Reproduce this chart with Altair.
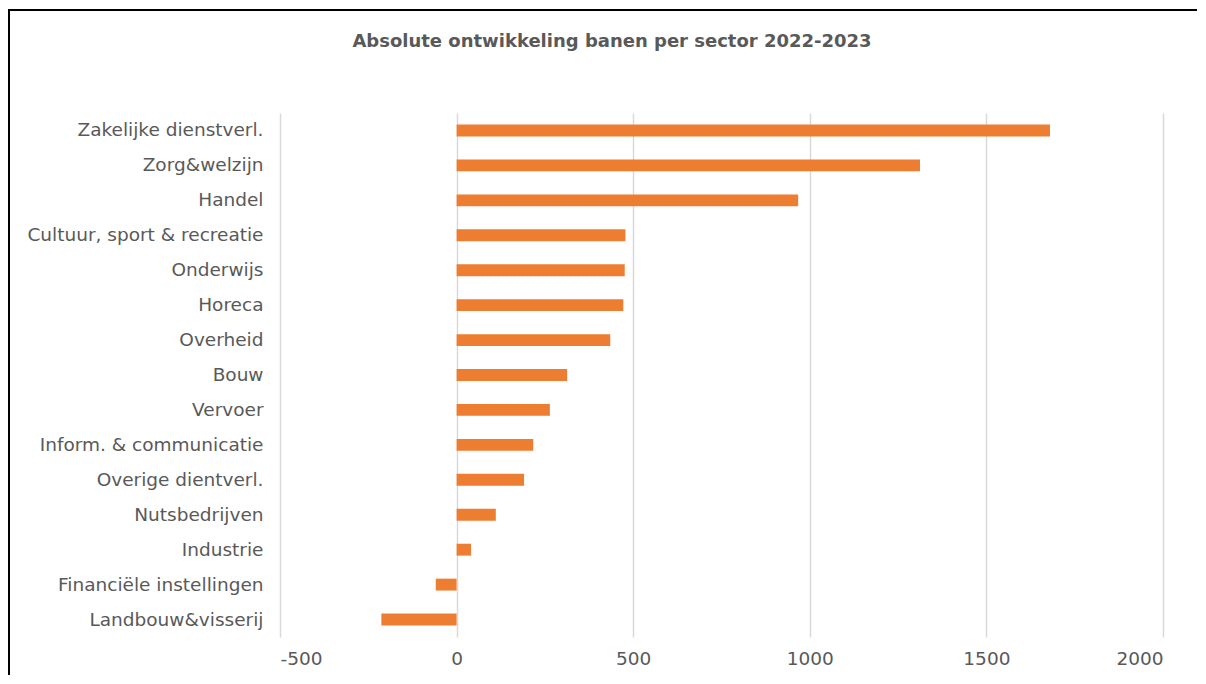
import altair as alt
import pandas as pd

title_text = "Absolute ontwikkeling banen per sector 2022-2023"
sectors = [
    "Zakelijke dienstverl.",
    "Zorg&welzijn",
    "Handel",
    "Cultuur, sport & recreatie",
    "Onderwijs",
    "Horeca",
    "Overheid",
    "Bouw",
    "Vervoer",
    "Inform. & communicatie",
    "Overige dientverl.",
    "Nutsbedrijven",
    "Industrie",
    "Financiële instellingen",
    "Landbouw&visserij",
]
values = [1680, 1312, 967, 478, 476, 472, 435, 313, 264, 217, 191, 111, 41, -59, -213]
x_ticks = [-500, 0, 500, 1000, 1500, 2000]

df = pd.DataFrame({"sector": sectors, "value": values})

FONT = "DejaVu Sans"
TEXT = "#595959"

bars = alt.Chart(df).mark_bar(color="#ED7D31").encode(
    x=alt.X(
        "value:Q",
        scale=alt.Scale(domain=[-500, 2000], nice=False, zero=False),
        axis=alt.Axis(
            values=x_ticks,
            title=None,
            grid=True,
            gridColor="#D9D9D9",
            gridWidth=1.5,
            domain=False,
            ticks=False,
            labelPadding=12,
            labelExpr="'' + datum.value",
        ),
    ),
    y=alt.Y(
        "sector:N",
        sort=sectors,
        scale=alt.Scale(paddingInner=0.66, paddingOuter=0.33),
        axis=alt.Axis(
            title=None,
            domain=False,
            ticks=False,
            grid=False,
            labelPadding=17,
            labelLimit=400,
        ),
    ),
)

deco = pd.DataFrame({"t": [title_text]})

frame_top = alt.Chart(deco).mark_rule(
    color="black", strokeWidth=2, clip=False
).encode(
    x=alt.value(-271),
    x2=alt.value(917),
    y=alt.value(-103),
)

frame_left = alt.Chart(deco).mark_rule(
    color="black", strokeWidth=2, clip=False
).encode(
    x=alt.value(-271),
    y=alt.value(-104),
    y2=alt.value(562),
)

title = alt.Chart(deco).mark_text(
    font=FONT,
    fontSize=18,
    fontWeight="bold",
    color=TEXT,
    align="center",
    baseline="alphabetic",
    clip=False,
).encode(
    x=alt.value(332),
    y=alt.value(-66),
    text="t:N",
)

chart = (
    alt.layer(bars, frame_top, frame_left, title)
    .properties(
        width=883,
        height=524,
        autosize=alt.AutoSizeParams(type="none"),
        padding={"left": 272, "top": 105, "right": 35, "bottom": 39},
        background="white",
    )
    .configure_axis(labelFont=FONT, labelFontSize=18.5, labelColor=TEXT)
    .configure_view(stroke=None)
)

chart.save("out.html", embed_options={"renderer": "svg", "actions": False})
